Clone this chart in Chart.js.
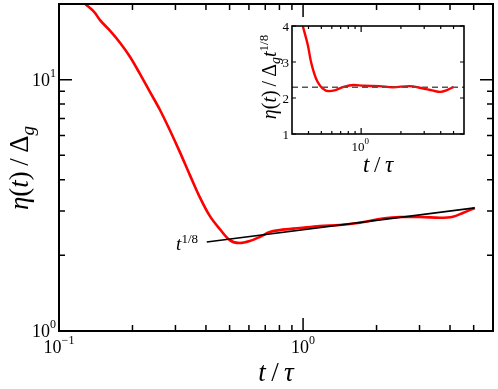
<!DOCTYPE html>
<html>
<head>
<meta charset="utf-8">
<script src="https://cdn.jsdelivr.net/npm/chart.js@4"></script>
<style>
body { margin: 0; background: #fff; }
#wrap { position: relative; width: 498px; height: 389px; }
canvas { position: absolute; left: 0; top: 0; }
</style>
</head>
<body>
<div id="wrap">
  <canvas id="mainChart" width="498" height="389"></canvas>
  <canvas id="insetChart" width="498" height="389"></canvas>
</div>
<script>
// main curve, eta(t)/Delta_g against t/tau
const mainT = [0.1274, 0.140, 0.147, 0.1614, 0.1775, 0.195, 0.2143, 0.2355, 0.259, 0.284, 0.3125, 0.3435,
  0.3773, 0.4147, 0.4556, 0.5006, 0.550, 0.6046, 0.6646, 0.7303, 0.8026, 0.9694, 1.170, 1.414, 1.708,
  2.062, 2.49, 3.008, 3.633, 4.108, 4.513, 5.054]
const mainEta = [20.1, 18.5, 17.3, 15.7, 14.05, 12.36, 10.57, 8.96, 7.59, 6.32, 5.16, 4.18,
  3.41, 2.87, 2.545, 2.30, 2.238, 2.279, 2.365, 2.476, 2.52, 2.568, 2.616, 2.64, 2.697,
  2.79, 2.84, 2.84, 2.823, 2.849, 2.948, 3.087]

// the t^(1/8) guide line, two end points
const fitT = [0.403, 5.05]
const fitEta = [2.26, 3.09]

// inset, eta(t)/(Delta_g t^(1/8))
const insetT = [0.362, 0.395, 0.418, 0.442, 0.468, 0.510, 0.571, 0.641, 0.738, 0.877, 1.04, 1.38,
  1.74, 2.31, 2.90, 3.45, 3.98, 4.46, 5.0]
const insetRatio = [4.0, 3.47, 3.0, 2.68, 2.45, 2.27, 2.19, 2.22, 2.31, 2.36, 2.34, 2.33,
  2.30, 2.33, 2.27, 2.21, 2.17, 2.22, 2.31]
const insetLevel = 2.3

// ticks
const mainXMajor = [0.1, 1]
const mainXMinor = [0.2, 0.3, 0.4, 0.5, 0.6, 0.7, 0.8, 0.9, 2, 3, 4, 5]
const mainYMajor = [1, 10]
const mainYMinor = [2, 3, 4, 5, 6, 7, 8, 9]
const insetXMajor = [1]
const insetXMinor = [0.4, 0.5, 0.6, 0.7, 0.8, 0.9, 2, 3, 4, 5]
const insetYMajor = [1, 2, 3, 4]

const SERIF = "'Liberation Serif', 'DejaVu Serif', serif"

const toPoints = (xs, ys) => xs.map((x, i) => ({ x, y: ys[i] }))

// draws a run of text pieces [text, italic, size, dy] starting at x (or centred)
const drawMath = (ctx, parts, x, y, align) => {
    const widths = parts.map(p => {
        ctx.font = (p[1] ? 'italic ' : '') + p[2] + 'px ' + SERIF
        return ctx.measureText(p[0]).width
    })
    const total = widths.reduce((a, b) => a + b, 0)
    let cx = align === 'center' ? x - total / 2 : align === 'right' ? x - total : x
    ctx.textBaseline = 'alphabetic'
    ctx.textAlign = 'left'
    parts.forEach((p, i) => {
        ctx.font = (p[1] ? 'italic ' : '') + p[2] + 'px ' + SERIF
        ctx.fillText(p[0], cx, y + (p[3] || 0))
        cx += widths[i]
    })
}

const drawTicks = (chart, xs, ys, lw) => {
    const { ctx, chartArea: a, scales } = chart
    ctx.save()
    ctx.strokeStyle = '#000'
    ctx.lineWidth = lw
    ctx.beginPath()
    xs.forEach(([v, l]) => {
        const px = scales.x.getPixelForValue(v)
        ctx.moveTo(px, a.bottom); ctx.lineTo(px, a.bottom - l)
        ctx.moveTo(px, a.top); ctx.lineTo(px, a.top + l)
    })
    ys.forEach(([v, l]) => {
        const py = scales.y.getPixelForValue(v)
        ctx.moveTo(a.left, py); ctx.lineTo(a.left + l, py)
        ctx.moveTo(a.right, py); ctx.lineTo(a.right - l, py)
    })
    ctx.stroke()
    ctx.restore()
}

const mainDecor = {
    id: 'mainDecor',
    afterDraw(chart) {
        const { ctx, chartArea: a, scales } = chart
        drawTicks(chart,
            mainXMajor.map(v => [v, 13]).concat(mainXMinor.map(v => [v, 6])),
            mainYMajor.map(v => [v, 13]).concat(mainYMinor.map(v => [v, 6])), 1.5)
        ctx.save()
        ctx.strokeStyle = '#000'
        ctx.lineWidth = 2
        ctx.strokeRect(a.left, a.top, a.right - a.left, a.bottom - a.top)
        ctx.fillStyle = '#000'
        // x tick labels
        mainXMajor.forEach(v => {
            const px = scales.x.getPixelForValue(v)
            const e = Math.round(Math.log10(v))
            drawMath(ctx, [['10', false, 18], [e < 0 ? '\u2212' + (-e) : String(e), false, 12, -9]], px, 353, 'center')
        })
        // y tick labels
        mainYMajor.forEach(v => {
            const py = scales.y.getPixelForValue(v)
            const e = Math.round(Math.log10(v))
            drawMath(ctx, [['10', false, 18], [String(e), false, 12, -9]], a.left - 3, py + 6, 'right')
        })
        // axis titles
        drawMath(ctx, [['t', true, 27], ['\u2009/\u2009', false, 27], ['\u03c4', true, 27]], (a.left + a.right) / 2, 381, 'center')
        ctx.save()
        ctx.translate(28, 168)
        ctx.rotate(-Math.PI / 2)
        drawMath(ctx, [['\u03b7', true, 27], ['(', false, 27], ['t', true, 27], [')', false, 27],
            ['\u2009/\u2009', false, 27], ['\u0394', false, 27], ['g', true, 19, 6]], 0, 0, 'center')
        ctx.restore()
        // t^(1/8) label
        drawMath(ctx, [['t', true, 19], ['1/8', false, 13, -7]], 198, 250, 'right')
        ctx.restore()
    }
}

new Chart('mainChart', {
    type: 'line',
    data: {
        datasets: [{
            data: toPoints(fitT, fitEta),
            borderColor: '#000',
            borderWidth: 1.6,
            pointRadius: 0
        }, {
            data: toPoints(mainT, mainEta),
            borderColor: '#ff0000',
            borderWidth: 2.6,
            pointRadius: 0,
            cubicInterpolationMode: 'monotone'
        }]
    },
    options: {
        responsive: false,
        animation: false,
        devicePixelRatio: 1,
        layout: { padding: { left: 59, right: 5, top: 4, bottom: 58 } },
        plugins: { legend: { display: false }, tooltip: { enabled: false } },
        scales: {
            x: { type: 'logarithmic', min: 0.1, max: 6, display: false },
            y: { type: 'logarithmic', min: 1, max: 20, display: false }
        }
    },
    plugins: [mainDecor]
})

const insetDecor = {
    id: 'insetDecor',
    beforeDraw(chart) {
        const { ctx, chartArea: a } = chart
        ctx.save()
        ctx.fillStyle = '#fff'
        ctx.fillRect(a.left, a.top, a.right - a.left, a.bottom - a.top)
        ctx.restore()
    },
    afterDraw(chart) {
        const { ctx, chartArea: a, scales } = chart
        drawTicks(chart,
            insetXMajor.map(v => [v, 6]).concat(insetXMinor.map(v => [v, 3])),
            insetYMajor.map(v => [v, 4]), 1.2)
        ctx.save()
        ctx.strokeStyle = '#000'
        ctx.lineWidth = 1.6
        ctx.strokeRect(a.left, a.top, a.right - a.left, a.bottom - a.top)
        ctx.fillStyle = '#000'
        insetYMajor.forEach(v => {
            const py = scales.y.getPixelForValue(v)
            drawMath(ctx, [[String(v), false, 13]], a.left - 3, py + 5, 'right')
        })
        insetXMajor.forEach(v => {
            const px = scales.x.getPixelForValue(v)
            drawMath(ctx, [['10', false, 13], ['0', false, 9, -7]], px - 1, 151, 'center')
        })
        drawMath(ctx, [['t', true, 23], ['\u2009/\u2009', false, 23], ['\u03c4', true, 23]], (a.left + a.right) / 2, 172, 'center')
        ctx.save()
        ctx.translate(276, 77)
        ctx.rotate(-Math.PI / 2)
        drawMath(ctx, [['\u03b7', true, 20], ['(', false, 20], ['t', true, 20], [')', false, 20],
            ['\u2009/\u2009', false, 20], ['\u0394', false, 20], ['g', true, 14, 4], ['t', true, 20],
            ['1/8', false, 13, -8]], 0, 0, 'center')
        ctx.restore()
        ctx.restore()
    }
}

new Chart('insetChart', {
    type: 'line',
    data: {
        datasets: [{
            data: toPoints([0.3, 6], [insetLevel, insetLevel]),
            borderColor: '#555',
            borderWidth: 1.4,
            borderDash: [6, 4],
            pointRadius: 0
        }, {
            data: toPoints(insetT, insetRatio),
            borderColor: '#ff0000',
            borderWidth: 2.4,
            pointRadius: 0,
            cubicInterpolationMode: 'monotone'
        }]
    },
    options: {
        responsive: false,
        animation: false,
        devicePixelRatio: 1,
        layout: { padding: { left: 292, right: 34, top: 26, bottom: 255 } },
        plugins: { legend: { display: false }, tooltip: { enabled: false } },
        scales: {
            x: { type: 'logarithmic', min: 0.3, max: 6, display: false },
            y: { type: 'linear', min: 1, max: 4, display: false }
        }
    },
    plugins: [insetDecor]
})
</script>
</body>
</html>
